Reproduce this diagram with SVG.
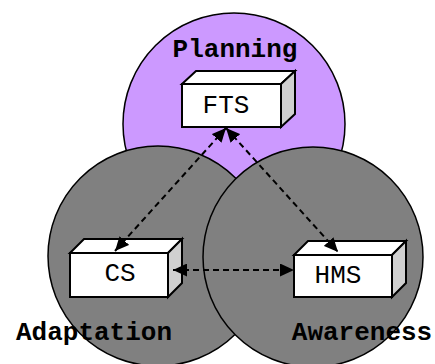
<svg xmlns="http://www.w3.org/2000/svg" width="435" height="364" viewBox="0 0 435 364">
<style>
.c{stroke:#000;stroke-width:1.5}
.f{fill:#fff;stroke:#000;stroke-width:2;stroke-linejoin:miter}
.s{fill:#d0d0d0;stroke:#000;stroke-width:2}
.t{font-family:"Liberation Mono","Courier New",monospace;font-size:26px;fill:#000;text-anchor:middle}
.b{font-weight:bold}
.e{stroke:#000;stroke-width:2;stroke-dasharray:6,4;fill:none}
</style>
<defs>
<marker id="ah" markerUnits="userSpaceOnUse" markerWidth="15" markerHeight="13" refX="14" refY="6.5" orient="auto-start-reverse">
<path d="M0,0 L14,6.5 L0,13 z" fill="#000"/>
</marker>
</defs>
<g id="regions">
<circle id="planning" class="c" cx="234" cy="124" r="111" fill="#cc99ff"/>
<circle id="adaptation" class="c" cx="158" cy="256" r="110" fill="#808080"/>
<circle id="awareness" class="c" cx="313" cy="257" r="110" fill="#808080"/>
</g>
<g id="labels">
<text class="t b" x="235" y="57">Planning</text>
<text class="t b" x="94" y="340">Adaptation</text>
<text class="t b" x="362" y="340">Awareness</text>
</g>
<g id="FTS">
<polygon class="f" points="182,84 196,71 295,71 281,84"/>
<polygon class="s" points="281,84 295,71 295,114 281,127"/>
<rect class="f" x="182" y="84" width="99" height="43"/>
<text class="t" x="226" y="113">FTS</text>
</g>
<g id="CS">
<polygon class="f" points="70,253 84,239 182,239 168,253"/>
<polygon class="s" points="168,253 182,239 182,283 168,297"/>
<rect class="f" x="70" y="253" width="98" height="44"/>
<text class="t" x="120" y="281">CS</text>
</g>
<g id="HMS">
<polygon class="f" points="294,255 308,241 406,241 392,255"/>
<polygon class="s" points="392,255 406,241 406,283 392,297"/>
<rect class="f" x="294" y="255" width="98" height="42"/>
<text class="t" x="338" y="283">HMS</text>
</g>
<g id="connectors">
<line class="e" x1="226" y1="128" x2="115" y2="251" marker-start="url(#ah)" marker-end="url(#ah)"/>
<line class="e" x1="226" y1="128" x2="338" y2="252" marker-start="url(#ah)" marker-end="url(#ah)"/>
<line class="e" x1="173" y1="270" x2="294" y2="270" marker-start="url(#ah)" marker-end="url(#ah)"/>
</g>
</svg>
